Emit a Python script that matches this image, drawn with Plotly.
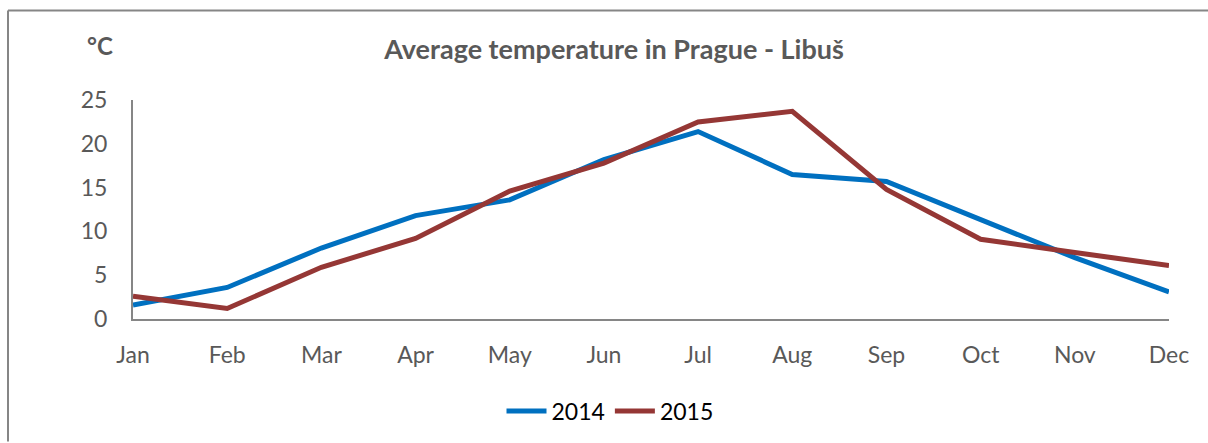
import plotly.graph_objects as go

months = ["Jan", "Feb", "Mar", "Apr", "May", "Jun", "Jul", "Aug", "Sep", "Oct", "Nov", "Dec"]
temp_2014 = [1.6, 3.6, 8.1, 11.8, 13.6, 18.2, 21.4, 16.5, 15.7, 11.4, 7.0, 3.1]
temp_2015 = [2.6, 1.2, 5.9, 9.2, 14.6, 17.8, 22.5, 23.7, 14.8, 9.1, 7.6, 6.1]
y_ticks = [0, 5, 10, 15, 20, 25]

W, H = 1208, 443
L, R, T, B = 133, 39, 100, 123
pw, ph = W - L - R, H - T - B

def px(x):
    return (x - L) / pw

def py(y):
    return (H - B - y) / ph

FONT = "Lato"
GREY = "#595959"

fig = go.Figure()
fig.add_trace(go.Scatter(x=list(range(12)), y=temp_2014, name="2014", mode="lines",
                         line=dict(color="#0070C0", width=5)))
fig.add_trace(go.Scatter(x=list(range(12)), y=temp_2015, name="2015", mode="lines",
                         line=dict(color="#953735", width=5)))

fig.update_layout(
    width=W, height=H,
    margin=dict(l=L, r=R, t=T, b=B),
    paper_bgcolor="white", plot_bgcolor="white",
    font=dict(family=FONT, color=GREY, size=23),
    title=dict(text="<b>Average temperature in Prague - Libuš</b>", x=614 / W, xanchor="center",
               y=1 - 50 / H, yanchor="middle", font=dict(family=FONT, size=27, color=GREY)),
    xaxis=dict(range=[0, 11], tickvals=list(range(12)), ticktext=months, showgrid=False,
               showline=True, linecolor="#868686", linewidth=2, zeroline=False,
               ticks="outside", ticklen=14, tickcolor="rgba(0,0,0,0)",
               tickfont=dict(size=23, color=GREY)),
    yaxis=dict(range=[0, 25], tickvals=y_ticks, showgrid=False, showline=True,
               linecolor="#868686", linewidth=2, zeroline=False,
               ticks="outside", ticklen=19, tickcolor="rgba(0,0,0,0)",
               tickfont=dict(size=23, color=GREY)),
    legend=dict(orientation="h", x=px(610), xanchor="center", y=py(411), yanchor="middle",
                font=dict(size=23, color="black"), itemwidth=40, traceorder="normal"),
    showlegend=True,
)

fig.add_annotation(text="<b>°C</b>", x=px(100), y=py(45), xref="paper", yref="paper",
                   xanchor="center", yanchor="middle",
                   showarrow=False, font=dict(family=FONT, size=24, color=GREY))

# chart-area border (only left and top edges are inside the frame)
fig.add_shape(type="line", xref="paper", yref="paper", x0=px(8), y0=py(10), x1=px(1208), y1=py(10),
              line=dict(color="#868686", width=2), layer="below")
fig.add_shape(type="line", xref="paper", yref="paper", x0=px(8), y0=py(10), x1=px(8), y1=py(443),
              line=dict(color="#868686", width=2), layer="below")

fig.write_html("out.html", config={"displayModeBar": False},
               post_script=("document.documentElement.style.overflow='hidden';"
                            "document.body.style.margin='0';document.body.style.overflow='hidden';"))
